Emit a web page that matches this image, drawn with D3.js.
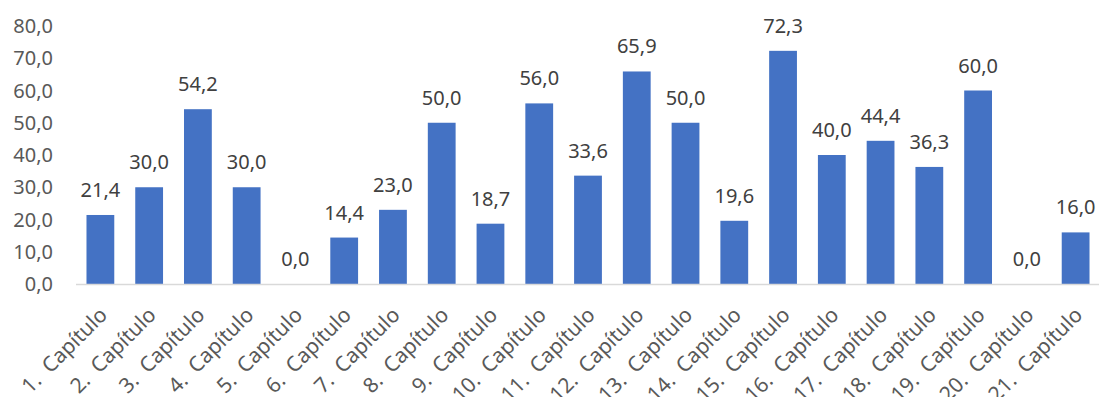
<!DOCTYPE html>
<html>
<head>
<meta charset="utf-8">
<script src="https://cdn.jsdelivr.net/npm/d3@7"></script>
<style>
  body { margin: 0; background: #fff; }
  text { font-family: "Noto Sans", "Open Sans", sans-serif; white-space: pre; }
</style>
</head>
<body>
<svg id="chart"></svg>
<script>
// data
const categories = ["1.  Capítulo", "2.  Capítulo", "3.  Capítulo", "4.  Capítulo", "5.  Capítulo",
  "6.  Capítulo", "7.  Capítulo", "8.  Capítulo", "9.  Capítulo", "10.  Capítulo", "11.  Capítulo",
  "12.  Capítulo", "13.  Capítulo", "14.  Capítulo", "15.  Capítulo", "16.  Capítulo", "17.  Capítulo",
  "18.  Capítulo", "19.  Capítulo", "20.  Capítulo", "21.  Capítulo"]
const values = [21.4, 30.0, 54.2, 30.0, 0.0, 14.4, 23.0, 50.0, 18.7, 56.0, 33.6,
  65.9, 50.0, 19.6, 72.3, 40.0, 44.4, 36.3, 60.0, 0.0, 16.0]
const yTicks = [0, 10, 20, 30, 40, 50, 60, 70, 80]

const width = 1099
const height = 397
const margin = { left: 76, right: 0, top: 26, bottom: 113 }

const svg = d3.select('svg#chart').attr('width', width).attr('height', height)

const fmt = v => v.toFixed(1).replace('.', ',')

const x = d3.scaleBand()
    .domain(categories)
    .range([margin.left, width + 1])
    .paddingInner(0.43)
    .paddingOuter(0.215)

const y = d3.scaleLinear()
    .domain([0, 80])
    .range([height - margin.bottom, margin.top])

// y axis labels
svg.append('g').selectAll('text').data(yTicks)
    .enter().append('text')
    .attr('x', 53)
    .attr('y', d => y(d))
    .attr('dy', '0.35em')
    .attr('text-anchor', 'end')
    .attr('fill', '#595959')
    .style('font-size', '20px')
    .text(d => fmt(d))

// bars
svg.append('g').selectAll('rect').data(values)
    .enter().append('rect')
    .attr('x', (d, i) => x(categories[i]))
    .attr('y', d => y(d))
    .attr('width', x.bandwidth())
    .attr('height', d => y(0) - y(d))
    .attr('fill', '#4472C4')

// baseline
svg.append('line')
    .attr('x1', margin.left).attr('x2', width)
    .attr('y1', y(0) + 0.5).attr('y2', y(0) + 0.5)
    .attr('stroke', '#d9d9d9')
    .attr('stroke-width', 1.5)

// value labels
svg.append('g').selectAll('text').data(values)
    .enter().append('text')
    .attr('x', (d, i) => x(categories[i]) + x.bandwidth() / 2)
    .attr('y', d => y(d) - 18)
    .attr('text-anchor', 'middle')
    .attr('fill', '#404040')
    .style('font-size', '20px')
    .text(d => fmt(d))

// x labels rotated
svg.append('g').selectAll('text').data(categories)
    .enter().append('text')
    .attr('transform', d => {
        const cx = x(d) + x.bandwidth() / 2 + 3
        return 'translate(' + cx + ',' + (y(0) + 27) + ') rotate(-45)'
    })
    .attr('text-anchor', 'end')
    .attr('dy', '0.35em')
    .attr('fill', '#595959')
    .style('font-size', '21px')
    .text(d => d)
</script>
</body>
</html>
